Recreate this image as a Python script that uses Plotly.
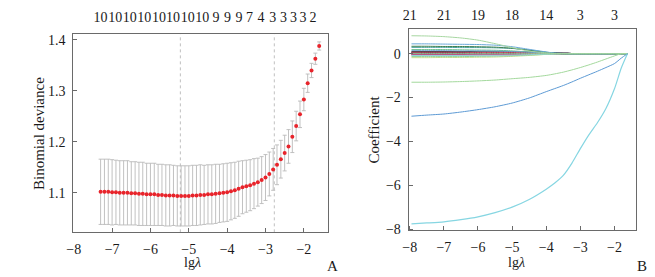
import plotly.graph_objects as go

# ---------------- Panel A data: cross-validated binomial deviance ----------------
lg_lambda = [-7.3, -7.2, -7.1, -7.0, -6.9, -6.8, -6.7, -6.6, -6.5, -6.4, -6.3, -6.2, -6.1, -6.0,
             -5.9, -5.8, -5.7, -5.6, -5.5, -5.4, -5.3, -5.2, -5.1, -5.0, -4.9, -4.8, -4.7, -4.6,
             -4.5, -4.4, -4.3, -4.2, -4.1, -4.0, -3.9, -3.8, -3.7, -3.6, -3.5, -3.4, -3.3, -3.2,
             -3.1, -3.0, -2.9, -2.8, -2.7, -2.6, -2.5, -2.4, -2.3, -2.2, -2.1, -2.0, -1.9, -1.8,
             -1.7, -1.6]
deviance = [1.102, 1.102, 1.102, 1.101, 1.101, 1.100, 1.100, 1.100, 1.099, 1.099, 1.098, 1.098,
            1.097, 1.097, 1.097, 1.096, 1.096, 1.095, 1.095, 1.095, 1.094, 1.094, 1.094, 1.094,
            1.095, 1.095, 1.096, 1.096, 1.097, 1.097, 1.098, 1.099, 1.100, 1.101, 1.103, 1.105,
            1.108, 1.111, 1.113, 1.115, 1.118, 1.121, 1.125, 1.130, 1.137, 1.146, 1.155, 1.166,
            1.178, 1.191, 1.210, 1.231, 1.254, 1.283, 1.315, 1.340, 1.363, 1.388]
deviance_se = [0.064, 0.064, 0.064, 0.064, 0.063, 0.063, 0.063, 0.063, 0.062, 0.062, 0.062, 0.062,
               0.061, 0.061, 0.061, 0.060, 0.060, 0.060, 0.060, 0.059, 0.059, 0.059, 0.059, 0.059,
               0.059, 0.059, 0.059, 0.058, 0.058, 0.058, 0.058, 0.057, 0.057, 0.057, 0.056, 0.055,
               0.054, 0.052, 0.051, 0.050, 0.049, 0.047, 0.046, 0.045, 0.043, 0.041, 0.039, 0.037,
               0.035, 0.033, 0.031, 0.029, 0.026, 0.022, 0.018, 0.014, 0.011, 0.008]
nz_pos_a = [-7.30, -6.92, -6.54, -6.16, -5.78, -5.41, -5.03, -4.65, -4.29, -3.99, -3.69, -3.42,
            -3.12, -2.81, -2.53, -2.27, -2.02, -1.76]
nz_text_a = ["10", "10", "10", "10", "10", "10", "10", "10", "9", "9", "9", "7", "4", "3", "3",
             "3", "3", "2"]
lambda_lines = [-5.22, -2.77]
x_ticks = [-8, -7, -6, -5, -4, -3, -2]
y_ticks_a = [1.1, 1.2, 1.3, 1.4]

# ---------------- Panel B data: coefficient paths ----------------
x_path = [-7.95, -7.5, -7.0, -6.5, -6.0, -5.5, -5.0, -4.5, -4.0, -3.75, -3.5, -3.25, -3.0,
          -2.75, -2.5, -2.25, -2.0, -1.8, -1.62]
coef_cyan = [-7.76, -7.72, -7.67, -7.57, -7.44, -7.25, -7.00, -6.65, -6.18, -5.90, -5.55, -5.00,
             -4.33, -3.70, -3.15, -2.50, -1.60, -0.65, 0.0]
coef_blue = [-2.85, -2.80, -2.75, -2.66, -2.55, -2.42, -2.25, -2.02, -1.73, -1.59, -1.45, -1.29,
             -1.12, -0.96, -0.80, -0.63, -0.45, -0.20, 0.0]
coef_ltgreen = [-1.30, -1.30, -1.29, -1.27, -1.24, -1.20, -1.14, -1.08, -0.99, -0.92, -0.84, -0.74,
                -0.63, -0.51, -0.38, -0.24, -0.10, 0.0, 0.0]
coef_topgreen = [0.82, 0.81, 0.78, 0.72, 0.62, 0.46, 0.28, 0.12, 0.04, 0.01, 0.0, 0.0, 0.0, 0.0,
                 0.0, 0.0, 0.0, 0.0, 0.0]
coef_blue2 = [0.45, 0.45, 0.44, 0.43, 0.42, 0.39, 0.32, 0.20, 0.08, 0.03, 0.01, 0.0, 0.0, 0.0,
              0.0, 0.0, 0.0, 0.0, 0.0]
coef_dkgreen = [0.34, 0.34, 0.33, 0.33, 0.32, 0.30, 0.25, 0.16, 0.06, 0.02, 0.0, 0.0, 0.0, 0.0,
                0.0, 0.0, 0.0, 0.0, 0.0]
coef_teal = [0.29, 0.29, 0.29, 0.28, 0.28, 0.27, 0.24, 0.17, 0.07, 0.03, 0.01, 0.0, 0.0, 0.0,
             0.0, 0.0, 0.0, 0.0, 0.0]
coef_black1 = [0.10, 0.10, 0.10, 0.10, 0.09, 0.09, 0.08, 0.07, 0.05, 0.04, 0.02, 0.01, 0.0, 0.0,
               0.0, 0.0, 0.0, 0.0, 0.0]
coef_black2 = [0.05, 0.05, 0.05, 0.05, 0.05, 0.04, 0.04, 0.04, 0.03, 0.02, 0.01, 0.0, 0.0, 0.0,
               0.0, 0.0, 0.0, 0.0, 0.0]
coef_purple = [0.02, 0.02, 0.02, 0.02, 0.02, 0.02, 0.02, 0.02, 0.02, 0.01, 0.01, 0.0, 0.0, 0.0,
               0.0, 0.0, 0.0, 0.0, 0.0]
coef_red = [0.07, 0.07, 0.07, 0.07, 0.06, 0.06, 0.06, 0.05, 0.03, 0.02, 0.01, 0.0, 0.0, 0.0,
            0.0, 0.0, 0.0, 0.0, 0.0]
coef_magenta = [-0.03, -0.03, -0.03, -0.03, -0.03, -0.03, -0.03, -0.02, -0.02, -0.01, 0.0, 0.0,
                0.0, 0.0, 0.0, 0.0, 0.0, 0.0, 0.0]
coef_pink = [-0.05, -0.05, -0.05, -0.05, -0.05, -0.04, -0.04, -0.03, -0.02, -0.01, 0.0, 0.0, 0.0,
             0.0, 0.0, 0.0, 0.0, 0.0, 0.0]
coef_black3 = [-0.01, -0.01, -0.01, -0.01, -0.01, -0.01, -0.01, -0.01, -0.01, 0.0, 0.0, 0.0, 0.0,
               0.0, 0.0, 0.0, 0.0, 0.0, 0.0]
coef_green2 = [-0.13, -0.13, -0.13, -0.13, -0.12, -0.11, -0.09, -0.06, -0.03, -0.01, 0.0, 0.0,
               0.0, 0.0, 0.0, 0.0, 0.0, 0.0, 0.0]
coef_yellowgreen = [-0.18, -0.18, -0.17, -0.17, -0.16, -0.15, -0.12, -0.08, -0.03, -0.01, 0.0,
                    0.0, 0.0, 0.0, 0.0, 0.0, 0.0, 0.0, 0.0]
coef_cyan2 = [-0.08, -0.08, -0.08, -0.08, -0.07, -0.07, -0.06, -0.04, -0.02, -0.01, 0.0, 0.0,
              0.0, 0.0, 0.0, 0.0, 0.0, 0.0, 0.0]
coef_blue3 = [0.14, 0.14, 0.14, 0.13, 0.13, 0.12, 0.10, 0.07, 0.03, 0.01, 0.0, 0.0, 0.0, 0.0,
              0.0, 0.0, 0.0, 0.0, 0.0]
coef_green3 = [0.19, 0.19, 0.19, 0.18, 0.17, 0.16, 0.13, 0.08, 0.03, 0.01, 0.0, 0.0, 0.0, 0.0,
               0.0, 0.0, 0.0, 0.0, 0.0]
coef_zero = [0.0, 0.0, 0.0, 0.0, 0.0, 0.0, 0.0, 0.0, 0.0, 0.0, 0.0, 0.0, 0.0, 0.0, 0.0, 0.0,
             0.0, 0.0, 0.0]
nz_pos_b = [-8, -7, -6, -5, -4, -3, -2]
nz_text_b = ["21", "21", "19", "18", "14", "3", "3"]
y_ticks_b = [-8, -6, -4, -2, 0]

# drawing order: dark bundle first, the plain green zero line over it, big paths last
paths = [
    (coef_black1, "#2a2a2a", 1.2),
    (coef_black2, "#222222", 1.5),
    (coef_purple, "#3b1f4f", 1.5),
    (coef_black3, "#302038", 1.5),
    (coef_red, "#d65a6a", 1.0),
    (coef_pink, "#e98ab8", 1.2),
    (coef_magenta, "#c0307f", 1.5),
    (coef_yellowgreen, "#c6dc8a", 1.0),
    (coef_green2, "#8fcf9a", 1.0),
    (coef_cyan2, "#8fd6df", 1.0),
    (coef_green3, "#6fbf8f", 1.0),
    (coef_blue3, "#6f9fcf", 1.0),
    (coef_teal, "#4aa3a0", 1.0),
    (coef_dkgreen, "#3f7f4f", 1.0),
    (coef_blue2, "#6aa8d8", 1.0),
    (coef_topgreen, "#a6d6a0", 1.0),
    (coef_zero, "#9fd49a", 1.0),
    (coef_ltgreen, "#a3d89c", 1.0),
    (coef_blue, "#5d9ad4", 1.0),
    (coef_cyan, "#86d6e2", 1.2),
]

W, H = 655, 277
def fx(px):
    return px / W
def fy(py):
    return 1 - py / H

FONT = "Liberation Serif, Times New Roman, serif"
TXT = "#1a1a1a"
AX = "#6a6a6a"

fig = go.Figure()

# Panel A
fig.add_trace(go.Scatter(
    x=lg_lambda, y=deviance, mode="markers",
    marker=dict(color="#e8242b", size=4.0, line=dict(width=0)),
    error_y=dict(type="data", array=deviance_se, visible=True, color="#bababa",
                 thickness=0.9, width=2),
    xaxis="x", yaxis="y", showlegend=False, hoverinfo="skip"))

# Panel B
for vals, col, w in paths:
    fig.add_trace(go.Scatter(
        x=x_path, y=vals, mode="lines", line=dict(color=col, width=w, shape="spline",
                                                   smoothing=0.6),
        xaxis="x2", yaxis="y2", showlegend=False, hoverinfo="skip"))

# invisible anchors for top axes
fig.add_trace(go.Scatter(x=[nz_pos_a[0]], y=[deviance[0]], mode="markers",
                         marker=dict(opacity=0), xaxis="x3", yaxis="y",
                         showlegend=False, hoverinfo="skip"))
fig.add_trace(go.Scatter(x=[nz_pos_b[0]], y=[0], mode="markers",
                         marker=dict(opacity=0), xaxis="x4", yaxis="y2",
                         showlegend=False, hoverinfo="skip"))

for xv in lambda_lines:
    fig.add_shape(type="line", xref="x", yref="y domain", x0=xv, x1=xv, y0=0, y1=1,
                  line=dict(color="#b0b0b0", width=0.8, dash="dot"), layer="below")

tickfont = dict(family=FONT, size=14, color=TXT)
common_axis = dict(showgrid=False, zeroline=False, showline=True, linecolor=AX, linewidth=1.2,
                   mirror=True, ticks="inside", ticklen=4, tickcolor=AX, tickwidth=1,
                   tickfont=tickfont, ticklabelstandoff=4)

LA_X = [fx(59), fx(316)]
LA_Y = [fy(230), fy(26)]
RB_X = [fx(398), fx(628)]
RB_Y = [fy(228), fy(21)]

fig.update_layout(
    width=W, height=H, margin=dict(l=0, r=0, t=0, b=0),
    paper_bgcolor="white", plot_bgcolor="white",
    font=dict(family=FONT, color=TXT),
    xaxis=dict(domain=LA_X, range=[-8.01, -1.38], tickvals=x_ticks, anchor="y",
               **common_axis),
    yaxis=dict(domain=LA_Y, range=[1.0225, 1.411], tickvals=y_ticks_a,
               tickformat=".1f", anchor="x", **common_axis),
    xaxis3=dict(overlaying="x", side="top", anchor="y", range=[-8.01, -1.38],
                tickmode="array", tickvals=nz_pos_a, ticktext=nz_text_a, tickangle=0,
                showgrid=False, zeroline=False, showline=False, ticks="",
                tickfont=tickfont, ticklabelstandoff=8),
    xaxis2=dict(domain=RB_X, range=[-8.03, -1.36], tickvals=x_ticks, anchor="y2",
                **common_axis),
    yaxis2=dict(domain=RB_Y, range=[-8.06, 1.11], tickvals=y_ticks_b, anchor="x2",
                **common_axis),
    xaxis4=dict(overlaying="x2", side="top", anchor="y2", range=[-8.03, -1.36],
                tickmode="array", tickvals=nz_pos_b, ticktext=nz_text_b, tickangle=0,
                showgrid=False, zeroline=False, showline=False, ticks="",
                tickfont=tickfont, ticklabelstandoff=6),
)

def ann(px, py, text, angle=0, size=14):
    fig.add_annotation(x=fx(px), y=fy(py), xref="paper", yref="paper", text=text,
                       textangle=angle, showarrow=False,
                       font=dict(family=FONT, size=size, color=TXT),
                       xanchor="center", yanchor="middle")

ann(25, 128, "Binomial deviance", -90, 15)
ann(363, 124, "Coefficient", -90, 15)
ann(179, 261, "lg<i>λ</i>")
ann(507, 261, "lg<i>λ</i>")
ann(321, 265, "A", 0, 15)
ann(634, 265, "B", 0, 15)

fig.write_html("out.html")
